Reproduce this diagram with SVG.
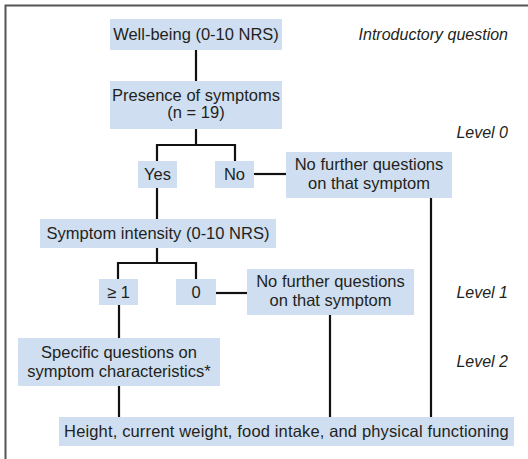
<svg xmlns="http://www.w3.org/2000/svg" width="528" height="459" viewBox="0 0 528 459">
<style>
.box{fill:#cfdff1}
.t{font-family:"Liberation Sans",Arial,sans-serif;font-size:16.5px;fill:#231f20;text-anchor:middle}
.lv{font-family:"Liberation Sans",Arial,sans-serif;font-size:16px;fill:#231f20;font-style:italic;text-anchor:end}
.c{stroke:#111;stroke-width:2.2;fill:none}
</style>
<rect x="0" y="0" width="528" height="459" fill="#fff"/>
<path d="M5.5,460 V5.5 H530" fill="none" stroke="#555" stroke-width="2"/>
<g id="connectors">
<path class="c" d="M196,50 V81"/>
<path class="c" d="M196,129 V145 M157,145 H235 M157,144 V161 M235,144 V161"/>
<path class="c" d="M254,174 H286"/>
<path class="c" d="M157,188 V219"/>
<path class="c" d="M157,248 V263 M118,263 H196 M118,262 V279 M196,262 V279"/>
<path class="c" d="M216,293 H247"/>
<path class="c" d="M119,305 V338"/>
<path class="c" d="M119,386 V417"/>
<path class="c" d="M330,315 V417"/>
<path class="c" d="M431,198 V417"/>
</g>
<g id="wellbeing"><rect class="box" x="110" y="19" width="172" height="31"/><text class="t" x="196" y="40">Well-being (0-10 NRS)</text></g>
<g id="presence"><rect class="box" x="110" y="81" width="172" height="48"/><text class="t" x="196" y="101">Presence of symptoms</text><text class="t" x="196" y="118">(n = 19)</text></g>
<g id="yes"><rect class="box" x="138" y="161" width="39" height="27"/><text class="t" x="157.5" y="180">Yes</text></g>
<g id="no"><rect class="box" x="215" y="161" width="39" height="27"/><text class="t" x="234.5" y="180">No</text></g>
<g id="nofurther1"><rect class="box" x="286" y="152" width="166" height="46"/><text class="t" x="369" y="170">No further questions</text><text class="t" x="369" y="189">on that symptom</text></g>
<g id="intensity"><rect class="box" x="40" y="219" width="236" height="29"/><text class="t" x="158" y="239">Symptom intensity (0-10 NRS)</text></g>
<g id="ge1"><rect class="box" x="99" y="279" width="39" height="26"/><text class="t" x="118.5" y="298">≥ 1</text></g>
<g id="zero"><rect class="box" x="176" y="279" width="40" height="26"/><text class="t" x="196" y="298">0</text></g>
<g id="nofurther2"><rect class="box" x="247" y="269" width="167" height="46"/><text class="t" x="330.5" y="287">No further questions</text><text class="t" x="330.5" y="306">on that symptom</text></g>
<g id="specific"><rect class="box" x="18" y="338" width="202" height="48"/><text class="t" x="119" y="358">Specific questions on</text><text class="t" x="119" y="377">symptom characteristics*</text></g>
<g id="final"><rect class="box" x="59" y="417" width="455" height="29"/><text class="t" x="286.5" y="437" letter-spacing="0.15">Height, current weight, food intake, and physical functioning</text></g>
<g id="levels">
<text class="lv" x="508" y="40">Introductory question</text>
<text class="lv" x="508" y="138">Level 0</text>
<text class="lv" x="508" y="298">Level 1</text>
<text class="lv" x="508" y="367">Level 2</text>
</g>
</svg>
